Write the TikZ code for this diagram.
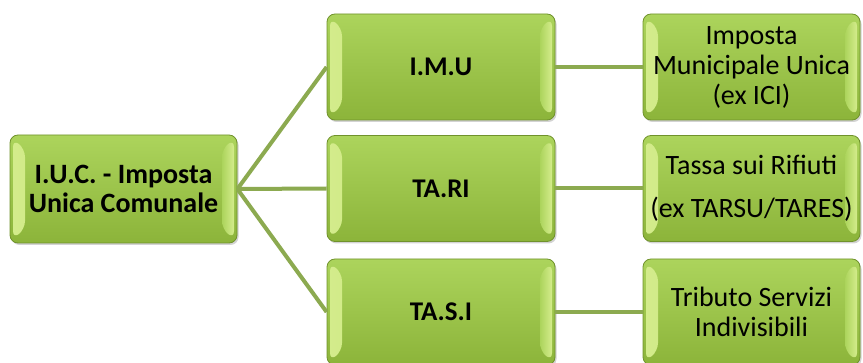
\documentclass[tikz,border=0pt]{standalone}
\usepackage{fontspec}
\setmainfont{Carlito}
\usetikzlibrary{shadows}

\definecolor{boxtop}{RGB}{172,212,92}
\definecolor{boxbot}{RGB}{140,180,58}
\definecolor{boxedge}{RGB}{112,146,44}
\definecolor{bevlite}{RGB}{212,236,140}
\definecolor{linkgreen}{RGB}{140,170,80}

\tikzset{
  box/.style={rectangle, rounded corners=8pt, draw=boxedge, line width=0.8pt,
    top color=boxtop, bottom color=boxbot, align=center, inner sep=2pt,
    drop shadow={shadow xshift=1.5pt, shadow yshift=-2pt, opacity=0.35},
    path picture={
      \shade[left color=bevlite, right color=boxtop]
        ([shift={(3pt,-4pt)}]path picture bounding box.north west) --
        ([shift={(15pt,-14pt)}]path picture bounding box.north west) --
        ([shift={(15pt,14pt)}]path picture bounding box.south west) --
        ([shift={(3pt,4pt)}]path picture bounding box.south west) -- cycle;
      \shade[right color=bevlite, left color=boxtop]
        ([shift={(-3pt,-4pt)}]path picture bounding box.north east) --
        ([shift={(-15pt,-14pt)}]path picture bounding box.north east) --
        ([shift={(-15pt,14pt)}]path picture bounding box.south east) --
        ([shift={(-3pt,4pt)}]path picture bounding box.south east) -- cycle;
    }},
  rootbox/.style={box, minimum width=227pt, minimum height=108pt,
    font=\fontsize{28}{29}\selectfont\bfseries},
  midbox/.style={box, minimum width=228pt, minimum height=106pt,
    font=\fontsize{27}{30}\selectfont\bfseries},
  descbox/.style={box, minimum width=217pt, minimum height=106pt,
    font=\fontsize{28}{30}\selectfont},
  link/.style={draw=linkgreen, line width=4pt}
}

\begin{document}
\begin{tikzpicture}[x=1pt,y=1pt]
\useasboundingbox (0,0) rectangle (863,362);

% root
\node[rootbox] (iuc) at (123.5,173) {I.U.C. - Imposta\\Unica Comunale};

% taxes
\node[midbox] (imu) at (441,295) {I.M.U};
\node[midbox] (tari) at (441,173.5) {TA.RI};
\node[midbox] (tasi) at (441,50) {TA.S.I};

% descriptions
\node[descbox] (dimu) at (751.5,295) {Imposta\\Municipale Unica\\(ex ICI)};
\node[descbox] (dtari) at (751.5,173.5) {Tassa sui Rifiuti\\[13pt](ex TARSU/TARES)};
\node[descbox] (dtasi) at (751.5,50) {Tributo Servizi\\Indivisibili};

% connectors
\draw[link] (iuc.east) -- (imu.west);
\draw[link] (iuc.east) -- (tari.west);
\draw[link] (iuc.east) -- (tasi.west);
\draw[link] (imu.east) -- (dimu.west);
\draw[link] (tari.east) -- (dtari.west);
\draw[link] (tasi.east) -- (dtasi.west);
\end{tikzpicture}
\end{document}
